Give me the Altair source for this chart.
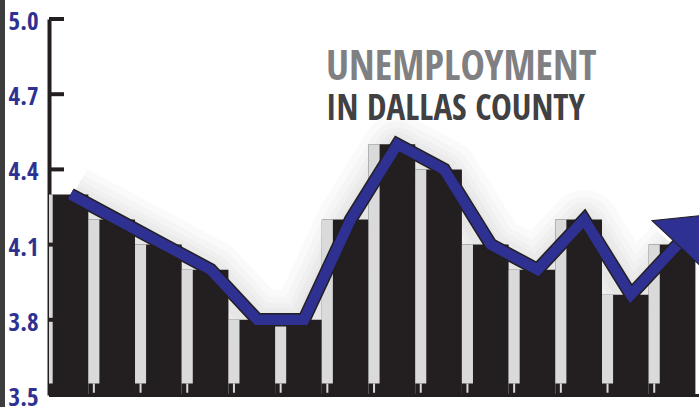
import altair as alt
import pandas as pd

# ---- data ----
values = [4.3, 4.2, 4.1, 4.0, 3.8, 3.8, 4.2, 4.5, 4.4, 4.1, 4.0, 4.2, 3.9, 4.1]
y_ticks = [3.5, 3.8, 4.1, 4.4, 4.7, 5.0]
title_line1 = "UNEMPLOYMENT"
title_line2 = "IN DALLAS COUNTY"

BLUE = "#2e3192"
BLACK = "#231f20"
FONT = "Open Sans Condensed, Roboto Condensed, DejaVu Sans Condensed, sans-serif"

df = pd.DataFrame({"idx": list(range(len(values))), "value": values})
ticks_df = pd.DataFrame({"tick": y_ticks})

xs = alt.Scale(domain=[-0.079, 13.84], nice=False, zero=False)
ys = alt.Scale(domain=[3.5, 5.0], nice=False, zero=False)

base = alt.Chart(df).transform_calculate(
    s0="datum.idx - 0.237", s1="datum.idx", b1="datum.idx + 0.763", c="datum.idx + 0.3815"
)

xaxis = alt.Axis(labels=False, ticks=False, grid=False, domain=True, domainColor=BLACK,
                 domainWidth=3, title=None)
yaxis = alt.Axis(values=y_ticks, format=".1f", ticks=False, grid=False, domain=True,
                 domainColor=BLACK, domainWidth=4, labelColor=BLUE, labelFont=FONT,
                 labelFontSize=25, labelFontWeight="bold", labelPadding=11, labelOffset=2.5,
                 title=None)

shadow = alt.layer(*[
    base.mark_line(color="#000000", opacity=0.018, strokeWidth=w, strokeJoin="round",
                   yOffset=5).encode(x=alt.X("c:Q", scale=xs), y=alt.Y("value:Q", scale=ys))
    for w in (70, 56, 44, 34, 24)
])

bars = base.mark_rect(color=BLACK, clip=True).encode(
    x=alt.X("s0:Q", scale=xs, axis=xaxis),
    x2="b1:Q",
    y=alt.Y("value:Q", scale=ys, axis=yaxis),
    y2=alt.datum(3.5),
)

stripes = base.mark_rect(color="#dadada", clip=True).encode(
    x=alt.X("s0:Q", scale=xs), x2="s1:Q",
    y=alt.Y("value:Q", scale=ys), y2=alt.datum(3.546),
)

notches = base.transform_calculate(m="datum.idx - 0.1185").mark_rule(
    color="#dadada", strokeWidth=2, clip=True
).encode(x=alt.X("m:Q", scale=xs), y=alt.datum(3.546), y2=alt.datum(3.509))

inner_ticks = alt.Chart(ticks_df).mark_rule(color=BLACK, strokeWidth=4).encode(
    y=alt.Y("tick:Q", scale=ys), x=alt.value(0), x2=alt.value(15)
)

line_outline = base.mark_line(color=BLACK, strokeWidth=13.5, strokeJoin="miter",
                              strokeMiterLimit=10, strokeCap="butt").encode(
    x=alt.X("c:Q", scale=xs), y=alt.Y("value:Q", scale=ys))
line_main = base.mark_line(color=BLUE, strokeWidth=10.5, strokeJoin="miter",
                           strokeMiterLimit=10, strokeCap="butt").encode(
    x=alt.X("c:Q", scale=xs), y=alt.Y("value:Q", scale=ys))

arrow = base.transform_filter(f"datum.idx == {len(values) - 1}").mark_point(
    shape="M-1,0L1,0L0,-1.15Z", filled=True, fill=BLUE, stroke=BLACK, strokeWidth=1,
    size=4900, angle=43, opacity=1
).encode(x=alt.X("c:Q", scale=xs), y=alt.Y("value:Q", scale=ys))

left_strip = alt.Chart(ticks_df.head(1)).mark_rect(color="#3d3d3d").encode(
    x=alt.value(-49), x2=alt.value(-44), y=alt.value(-19), y2=alt.value(388))

t1 = alt.Chart(pd.DataFrame({"t": [title_line1]})).mark_text(
    font=FONT, fontSize=41, fontWeight="bold", color="#808083", align="left",
    baseline="alphabetic").encode(text="t:N", x=alt.value(277), y=alt.value(61))
t2 = alt.Chart(pd.DataFrame({"t": [title_line2]})).mark_text(
    font=FONT, fontSize=35, fontWeight="bold", color="#414042", align="left",
    baseline="alphabetic").encode(text="t:N", x=alt.value(277), y=alt.value(101))

chart = alt.layer(
    left_strip, shadow, bars, stripes, notches, inner_ticks,
    line_outline, line_main, arrow, t1, t2
).properties(
    width=650, height=376,
    padding={"left": 49, "top": 19, "right": 0, "bottom": 12},
    autosize=alt.AutoSizeParams(type="none"),
    background="#ffffff",
).configure_view(stroke=None)

chart.save("out.html", embed_options={"renderer": "svg", "actions": False})
